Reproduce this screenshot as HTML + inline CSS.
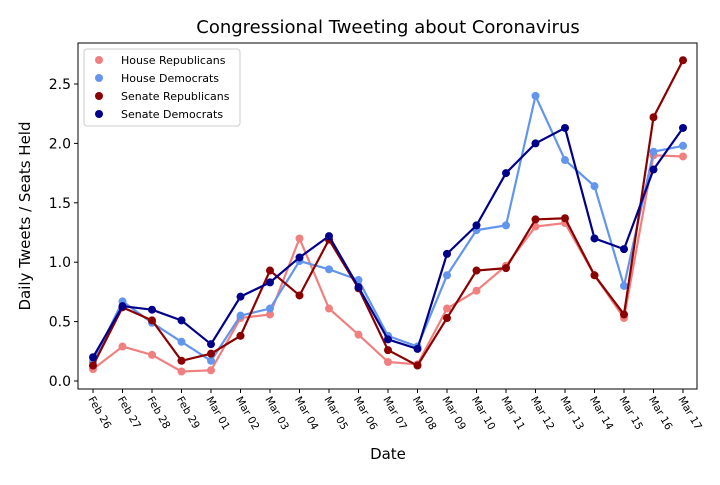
<!DOCTYPE html>
<html><head><meta charset="utf-8"><style>
body{margin:0;background:#fff;font-family:"Liberation Sans","DejaVu Sans",sans-serif}
svg text{font-family:"DejaVu Sans","Liberation Sans",sans-serif}
</style></head><body>
<svg id="c" width="720" height="480"></svg>
<script>
const dates=["Feb 26","Feb 27","Feb 28","Feb 29","Mar 01","Mar 02","Mar 03","Mar 04","Mar 05","Mar 06","Mar 07","Mar 08","Mar 09","Mar 10","Mar 11","Mar 12","Mar 13","Mar 14","Mar 15","Mar 16","Mar 17"];
const houseRep=[0.10,0.29,0.22,0.08,0.09,0.53,0.56,1.20,0.61,0.39,0.16,0.14,0.61,0.76,0.97,1.30,1.33,0.89,0.53,1.90,1.89];
const houseDem=[0.16,0.67,0.49,0.33,0.17,0.55,0.61,1.01,0.94,0.85,0.38,0.29,0.89,1.27,1.31,2.40,1.86,1.64,0.80,1.93,1.98];
const senRep=[0.13,0.62,0.51,0.17,0.23,0.38,0.93,0.72,1.19,0.78,0.26,0.13,0.53,0.93,0.95,1.36,1.37,0.89,0.56,2.22,2.70];
const senDem=[0.20,0.63,0.60,0.51,0.31,0.71,0.83,1.04,1.22,0.79,0.35,0.27,1.07,1.31,1.75,2.00,2.13,1.20,1.11,1.78,2.13];
const yTicks=[0,0.5,1,1.5,2,2.5];
const yTickLabels=["0.0","0.5","1.0","1.5","2.0","2.5"];
const seriesNames=["House Republicans","House Democrats","Senate Republicans","Senate Democrats"];

const NS="http://www.w3.org/2000/svg",svg=document.getElementById('c');
function mk(t,a,p){const e=document.createElementNS(NS,t);for(const k in a)e.setAttribute(k,a[k]);(p||svg).appendChild(e);return e;}
const L=78,R=697,T=43,B=389;
const x=i=>93+i*(683-93)/(dates.length-1);
const y=v=>381-v*(381-84)/2.5;

let t=mk('text',{x:388,y:33,'text-anchor':'middle','font-size':18});t.textContent="Congressional Tweeting about Coronavirus";



yTicks.forEach((v,i)=>{
 const g=mk('g',{});
 
 
 mk('line',{x1:L-4,x2:L,y1:y(v),y2:y(v),stroke:'#000','stroke-width':1},g);
 const tx=mk('text',{x:L-7,y:y(v)+5,'text-anchor':'end','font-size':14},g);tx.textContent=yTickLabels[i];
});
dates.forEach((d,i)=>{
 const g=mk('g',{});
 
 
 mk('line',{x1:x(i),x2:x(i),y1:B,y2:B+4,stroke:'#000','stroke-width':1},g);
 const tx=mk('text',{x:0,y:0,'font-size':10.5,transform:`translate(${x(i)-5},${B+10}) rotate(60)`},g);tx.textContent=d;
});
t=mk('text',{x:388,y:459,'text-anchor':'middle','font-size':15});t.textContent="Date";


t=mk('text',{x:0,y:0,'text-anchor':'middle','font-size':15,transform:'translate(30,216) rotate(-90)'});t.textContent="Daily Tweets / Seats Held";



const series=[[houseRep,'#f08080'],[houseDem,'#6495ed'],[senRep,'#8b0000'],[senDem,'#00008b']];
series.forEach(([vals,col],s)=>{
 const g=mk('g',{});
 
 
 mk('polyline',{points:vals.map((v,i)=>x(i)+','+y(v)).join(' '),fill:'none',stroke:col,'stroke-width':2.2},g);
 vals.forEach((v,i)=>{const c=mk('circle',{cx:x(i),cy:y(v),r:4,fill:col},g);
  
  });
});
const frame=mk('rect',{x:L,y:T,width:R-L,height:B-T,fill:'none',stroke:'#000','stroke-width':1});



const lg=mk('g',{});


mk('rect',{x:84,y:49,width:156,height:77,rx:3,fill:'#fff',stroke:'#ccc'},lg);
series.forEach(([v,col],s)=>{
 const e=mk('g',{},lg);
 
 
 mk('circle',{cx:99,cy:60+s*18,r:4,fill:col},e);
 const tx=mk('text',{x:121,y:64+s*18,'font-size':11},e);tx.textContent=seriesNames[s];
});
</script>
</body></html>
